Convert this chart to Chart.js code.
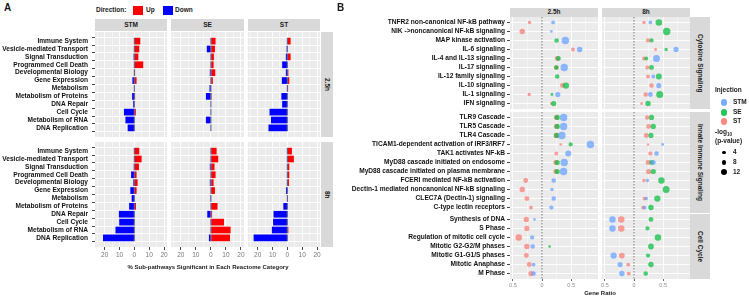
<!DOCTYPE html>
<html>
<head>
<meta charset="utf-8">
<script src="https://cdn.jsdelivr.net/npm/chart.js@4.4.1/dist/chart.umd.min.js"></script>
<style>
  body { margin: 0; width: 749px; height: 298px; position: relative; overflow: hidden; background: #fff;
         font-family: 'Liberation Sans', Arial, sans-serif; }
  canvas { position: absolute; }
  .t { position: absolute; white-space: nowrap; color: #1a1a1a; font-weight: bold; line-height: 1; }
  .strip { position: absolute; background: #d9d9d9; display: flex; align-items: center; justify-content: center;
           font-weight: bold; color: #1a1a1a; font-size: 6.5px; line-height: 1; }
  .box { position: absolute; }
</style>
</head>
<body>
<script>
// ---------- Panel A: % sub-pathways significant per Reactome category ----------
const categories = ['Immune System', 'Vesicle-mediated Transport', 'Signal Transduction', 'Programmed Cell Death',
  'Developmental Biology', 'Gene Expression', 'Metabolism', 'Metabolism of Proteins', 'DNA Repair',
  'Cell Cycle', 'Metabolism of RNA', 'DNA Replication'];
const injections = ['STM', 'SE', 'ST'];
const times = ['2.5h', '8h'];

// 2.5h
const stmUp25   = [4, 3.3, 2.7, 6, 0.5, 1.5, 0.3, 0.5, 0, 1, 0, 0];
const stmDown25 = [0, 0, -0.5, 0, 0, -1.3, -0.3, -1.5, -0.8, -7, -6, -4.5];
const seUp25    = [3.1, 2.7, 2, 1.8, 2.9, 1.3, 0, 0.5, 0, 0, 0, 0];
const seDown25  = [0, -2.7, 0, 0, -0.7, 0, -0.9, -3.3, 0, 0, -3.3, 0];
const stUp25    = [2.2, 0, 2.2, 0, 0.7, 1.3, 0.5, 0, 0, 0, 0, 0];
const stDown25  = [0, -0.5, -1, -3.5, -1, -3.7, 0, -4, -3.5, -12, -11, -12.7];
// 8h
const stmUp8    = [3.3, 4.9, 3.1, 1.5, 2.2, 1.5, 0, 1.1, 0, 0, 0, 0];
const stmDown8  = [0, 0, -0.4, -2.2, -0.7, -2.7, -1.8, -3.5, -10.4, -10.2, -12.7, -21.1];
const seUp8     = [3.8, 4.9, 2.4, 3.1, 1.8, 2.7, 0, 4.4, 0.8, 8.7, 13.1, 12.7];
const seDown8   = [0, 0, -0.7, 0, -0.7, 0, -0.4, 0, -2.4, 0, 0, -1.3];
const stUp8     = [3.1, 4.4, 1.3, 1.3, 1.1, 0, 0.4, 0, 0, 0, 0.7, 0];
const stDown8   = [0, 0, 0, 0, 0, -0.9, -0.3, -2.7, -9.3, -9.6, -10.4, -22.7];

// ---------- Panel B: gene ratio bubbles ----------
const cytokine = ['TNFR2 non-canonical NF-kB pathway', 'NIK ->noncanonical NF-kB signaling', 'MAP kinase activation',
  'IL-6 signaling', 'IL-4 and IL-13 signaling', 'IL-17 signaling', 'IL-12 family signaling', 'IL-10 signaling',
  'IL-1 signaling', 'IFN signaling'];
const innate = ['TLR9 Cascade', 'TLR5 Cascade', 'TLR4 Cascade', 'TICAM1-dependent activation of IRF3/IRF7',
  'TAK1 activates NF-kB', 'MyD88 cascade initiated on endosome', 'MyD88 cascade initiated on plasma membrane',
  'FCERI mediated NF-kB activation', 'Dectin-1 mediated noncanonical NF-kB signaling', 'CLEC7A (Dectin-1) signaling',
  'C-type lectin receptors'];
const cellCycle = ['Synthesis of DNA', 'S Phase', 'Regulation of mitotic cell cycle', 'Mitotic G2-G2/M phases',
  'Mitotic G1-G1/S phases', 'Mitotic Anaphase', 'M Phase'];

// values follow the order cytokine, innate, cellCycle (null = not significant)
const ratioSTM25 = [0.19, 0.16, 0.40, 0.645, null, 0.38, null, null, 0.27, null,
  0.37, 0.37, 0.34, 0.83, 0.45, 0.38, 0.37, 0.20, 0.17, 0.20, 0.16,
  -0.13, null, -0.17, -0.16, null, -0.145, -0.145];
const logpSTM25 = [5, 2.5, 18, 10, null, 18, null, null, 9, null,
  18, 18, 18, 18, 12, 18, 18, 7, 4, 7, 6,
  2.5, null, 6, 7, null, 5, 7];
const ratioSE25 = [null, null, 0.25, null, 0.28, 0.245, 0.26, 0.41, 0.17, 0.20,
  0.26, 0.26, 0.25, 0.49, null, 0.26, 0.26, null, null, null, null,
  null, null, null, 0.13, null, null, null];
const logpSE25 = [null, null, 7, null, 8, 7, 7, 13, 3, 9,
  9, 9, 9, 6, null, 9, 9, null, null, null, null,
  null, null, null, 2.5, null, null, null];
const ratioST25 = [-0.215, -0.34, null, 0.53, 0.26, 0.245, null, 0.35, -0.22, 0.16,
  0.245, 0.245, 0.245, 0.32, 0.245, 0.235, 0.235, -0.28, -0.34, -0.26, -0.19,
  -0.27, -0.26, -0.40, -0.26, -0.27, -0.22, -0.19];
const logpST25 = [4, 10, null, 5, 8, 7, null, 8, 4, 3,
  8, 8, 9, 2.5, 5, 8, 8, 8, 10, 8, 5,
  9, 9, 14, 10, 8, 8, 9];

const ratioSTM8 = [0.28, null, null, 0.72, 0.385, null, 0.33, 0.425, 0.28, null,
  null, null, null, 0.49, 0.385, 0.33, null, 0.23, null, 0.21, 0.18,
  -0.37, -0.37, null, null, -0.35, -0.24, -0.21];
const logpSTM8 = [5, null, null, 9, 16, null, 5, 9, 8, null,
  null, null, null, 3, 7, 8, null, 4, null, 4, 5,
  14, 14, null, null, 13, 9, 10];
const ratioSE8 = [0.425, 0.56, 0.30, 0.55, 0.21, 0.30, 0.425, null, 0.44, 0.24,
  0.30, 0.33, 0.29, null, null, 0.30, 0.33, 0.47, 0.55, 0.40, 0.29,
  0.29, 0.23, 0.41, 0.29, 0.24, 0.29, 0.20];
const logpSE8 = [14, 18, 6, 4, 5, 8, 12, null, 16, 10,
  9, 9, 9, null, null, 8, 9, 14, 16, 13, 10,
  8, 6, 14, 11, 6, 10, 7];
const ratioST8 = [0.17, null, 0.24, 0.37, 0.17, 0.23, 0.24, 0.30, 0.20, 0.13,
  0.225, 0.25, 0.21, 0.24, 0.28, 0.24, 0.25, 0.17, null, 0.18, 0.155,
  -0.22, -0.22, null, null, -0.21, -0.10, -0.09];
const logpST8 = [4, null, 6, 3, 5, 6, 5, 7, 7, 3,
  7, 8, 8, 2, 6, 8, 9, 4, null, 5, 5,
  14, 14, null, null, 11, 5, 5];

const sizeBreaks = [4, 8, 12];

// ---------- helpers ----------
const FONT = "'Liberation Sans', Arial, sans-serif";
const injColor = { STM: 'rgba(97,156,255,0.7)', SE: 'rgba(0,186,56,0.7)', ST: 'rgba(248,118,109,0.7)' };
const injKey = { STM: 'rgba(97,156,255,0.85)', SE: 'rgba(0,186,56,0.85)', ST: 'rgba(248,118,109,0.85)' };
const radius = p => 0.9 * Math.sqrt(p) - 0.1;

function addCanvas(x, y, w, h) {
  const c = document.createElement('canvas');
  c.width = w; c.height = h;
  c.style.left = x + 'px'; c.style.top = y + 'px';
  c.style.width = w + 'px'; c.style.height = h + 'px';
  document.body.appendChild(c);
  return c;
}

function text(str, x, cy, size, extra) {
  const d = document.createElement('div');
  d.className = 't';
  d.textContent = str;
  Object.assign(d.style, { left: x + 'px', top: (cy - size / 2) + 'px', fontSize: size + 'px' }, extra || {});
  document.body.appendChild(d);
  return d;
}

function strip(str, x, y, w, h, vertical) {
  const d = document.createElement('div');
  d.className = 'strip';
  Object.assign(d.style, { left: x + 'px', top: y + 'px', width: w + 'px', height: h + 'px' });
  const s = document.createElement('span');
  s.textContent = str;
  if (vertical) s.style.writingMode = 'vertical-rl';
  d.appendChild(s);
  document.body.appendChild(d);
}

function box(x, y, w, h, color, round) {
  const d = document.createElement('div');
  d.className = 'box';
  Object.assign(d.style, { left: x + 'px', top: y + 'px', width: w + 'px', height: h + 'px', background: color });
  if (round) d.style.borderRadius = '50%';
  document.body.appendChild(d);
}

const panelBg = {
  id: 'panelBg',
  beforeDraw(chart) {
    const { ctx, chartArea: a } = chart;
    ctx.save();
    ctx.fillStyle = '#ebebeb';
    ctx.fillRect(a.left, a.top, a.width, a.height);
    ctx.restore();
  }
};

// thin dark marks at zero for every category row (zero-width bars)
const zeroMarks = {
  id: 'zeroMarks',
  afterDatasetsDraw(chart) {
    const { ctx, scales: { x, y } } = chart;
    const x0 = x.getPixelForValue(0);
    const half = Math.abs(y.getPixelForValue(1) - y.getPixelForValue(0)) * 0.85 / 2;
    ctx.save();
    ctx.strokeStyle = '#22226a';
    ctx.lineWidth = 0.8;
    categories.forEach((c, i) => {
      const py = y.getPixelForValue(i);
      ctx.beginPath();
      ctx.moveTo(x0, py - half);
      ctx.lineTo(x0, py + half);
      ctx.stroke();
    });
    ctx.restore();
  }
};

const zeroDash = {
  id: 'zeroDash',
  beforeDatasetsDraw(chart) {
    const { ctx, chartArea: a, scales: { x } } = chart;
    const x0 = x.getPixelForValue(0);
    ctx.save();
    ctx.strokeStyle = '#4d4d4d';
    ctx.lineWidth = 0.8;
    ctx.setLineDash([1.5, 1.5]);
    ctx.beginPath();
    ctx.moveTo(x0, a.top);
    ctx.lineTo(x0, a.bottom);
    ctx.stroke();
    ctx.restore();
  }
};

// ---------- Panel A ----------
text('A', 4, 8, 10);
text('Direction:', 96, 10.5, 6.5);
box(133, 6, 10, 9, '#ff0000');
text('Up', 146, 10.5, 6.5);
box(163, 6, 10, 9, '#0000ff');
text('Down', 175, 10.5, 6.5);

const barSeries = {
  '2.5h': { STM: [stmUp25, stmDown25], SE: [seUp25, seDown25], ST: [stUp25, stDown25] },
  '8h': { STM: [stmUp8, stmDown8], SE: [seUp8, seDown8], ST: [stUp8, stDown8] }
};
const colA = [95, 171, 248];
const rowA = [32, 142];
const wA = 72, hA = 105;

injections.forEach((inj, ci) => strip(inj, colA[ci], 19, wA + (ci === 1 ? 1 : 0), 12));
times.forEach((t, ri) => strip(t, 321, rowA[ri], 12, hA, true));

times.forEach((t, ri) => {
  injections.forEach((inj, ci) => {
    const left = ci === 0, bottom = ri === 1;
    const axW = 95, axH = 16, pad = 8;
    const padL = left ? axW : pad, padB = bottom ? axH : pad;
    const w = wA + (ci === 1 ? 1 : 0);
    const canvas = addCanvas(colA[ci] - padL, rowA[ri] - pad, w + padL + pad, hA + pad + padB);
    const [up, down] = barSeries[t][inj];
    new Chart(canvas, {
      type: 'bar',
      data: {
        datasets: [
          { label: 'Up', data: up.map((v, i) => ({ x: v, y: i })), backgroundColor: '#ff0000',
            grouped: false, barPercentage: 0.85, categoryPercentage: 1 },
          { label: 'Down', data: down.map((v, i) => ({ x: v, y: i })), backgroundColor: '#0000ff',
            grouped: false, barPercentage: 0.85, categoryPercentage: 1 }
        ]
      },
      options: {
        indexAxis: 'y',
        responsive: false,
        animation: false,
        events: [],
        layout: { padding: { left: left ? 0 : pad, right: pad, top: pad, bottom: bottom ? 0 : pad } },
        plugins: { legend: { display: false }, tooltip: { enabled: false } },
        scales: {
          x: {
            type: 'linear', min: -26.5, max: 22,
            border: { display: false },
            grid: {
              color: '#ffffff',
              lineWidth: c => (c.tick && c.tick.value % 10 === 0) ? 0.9 : 0.45,
              drawTicks: bottom, tickLength: 3,
              tickColor: c => (c.tick && c.tick.value % 10 === 0) ? '#333333' : 'rgba(0,0,0,0)'
            },
            ticks: {
              stepSize: 5, includeBounds: false, display: bottom, autoSkip: false, maxRotation: 0, padding: 1,
              color: '#777777', font: { family: FONT, size: 6.5 },
              callback: v => v % 10 === 0 ? String(Math.abs(v)) : ''
            },
            afterFit: s => { s.height = bottom ? axH : 0; }
          },
          y: {
            type: 'linear', reverse: true, min: -0.6, max: categories.length - 0.4,
            border: { display: false },
            grid: { color: '#ffffff', lineWidth: 0.9, drawTicks: left, tickLength: 3, tickColor: '#333333' },
            ticks: {
              stepSize: 1, includeBounds: false, display: left, autoSkip: false, padding: 4,
              color: '#111111', font: { family: FONT, size: 6.6, weight: 'bold' },
              callback: v => categories[v]
            },
            afterFit: s => { s.width = left ? axW : 0; }
          }
        }
      },
      plugins: [panelBg, zeroMarks]
    });
  });
});
text('% Sub-pathways Significant in Each Reactome Category', 208, 267, 6, { transform: 'translateX(-50%)' });

// ---------- Panel B ----------
text('B', 337, 8, 10);

const bubbleSeries = {
  '2.5h': { STM: [ratioSTM25, logpSTM25], SE: [ratioSE25, logpSE25], ST: [ratioST25, logpST25] },
  '8h': { STM: [ratioSTM8, logpSTM8], SE: [ratioSE8, logpSE8], ST: [ratioST8, logpST8] }
};
const groupsB = [['Cytokine Signaling', cytokine], ['Innate Immune Signaling', innate], ['Cell Cycle', cellCycle]];
const colB = [510, 602];
const wB = 88;
const rowB = [{ y: 17, h: 92 }, { y: 112, h: 101 }, { y: 214, h: 65 }];

times.forEach((t, ci) => strip(t, colB[ci], 8, wB, 9));
groupsB.forEach((g, ri) => strip(g[0], 690, rowB[ri].y, 20, rowB[ri].h, true));

let offset = 0;
groupsB.forEach((g, ri) => {
  const labels = g[1];
  const start = offset;
  offset += labels.length;
  times.forEach((t, ci) => {
    const left = ci === 0, bottom = ri === groupsB.length - 1;
    const axW = 175, axH = 11, pad = 8;
    const padL = left ? axW : pad, padB = bottom ? axH : pad;
    const canvas = addCanvas(colB[ci] - padL, rowB[ri].y - pad, wB + padL + pad, rowB[ri].h + pad + padB);
    const datasets = injections.map(inj => {
      const [ratio, logp] = bubbleSeries[t][inj];
      const pts = [];
      labels.forEach((lab, i) => {
        const v = ratio[start + i];
        if (v !== null) pts.push({ x: v, y: i, r: radius(logp[start + i]) });
      });
      return { label: inj, data: pts, backgroundColor: injColor[inj], borderWidth: 0 };
    });
    new Chart(canvas, {
      type: 'bubble',
      data: { datasets },
      options: {
        responsive: false,
        animation: false,
        events: [],
        layout: { padding: { left: left ? 0 : pad, right: pad, top: pad, bottom: bottom ? 0 : pad } },
        plugins: { legend: { display: false }, tooltip: { enabled: false } },
        scales: {
          x: {
            type: 'linear', min: -0.55, max: 0.96,
            border: { display: false },
            grid: {
              color: '#ffffff',
              lineWidth: c => (c.tick && Math.abs(c.tick.value * 2 - Math.round(c.tick.value * 2)) < 1e-6) ? 0.9 : 0.45,
              drawTicks: bottom, tickLength: 2,
              tickColor: c => (c.tick && Math.abs(c.tick.value * 2 - Math.round(c.tick.value * 2)) < 1e-6) ? '#555555' : 'rgba(0,0,0,0)'
            },
            ticks: {
              stepSize: 0.25, includeBounds: false, display: bottom, autoSkip: false, maxRotation: 0, padding: 1,
              color: '#8c8c8c', font: { family: FONT, size: 5.5 },
              callback: v => Math.abs(v * 2 - Math.round(v * 2)) < 1e-6 ? String(Math.abs(Math.round(v * 10) / 10)) : ''
            },
            afterFit: s => { s.height = bottom ? axH : 0; }
          },
          y: {
            type: 'linear', reverse: true, min: -0.6, max: labels.length - 0.4,
            border: { display: false },
            grid: { color: '#ffffff', lineWidth: 0.9, drawTicks: left, tickLength: 3, tickColor: '#333333' },
            ticks: {
              stepSize: 1, includeBounds: false, display: left, autoSkip: false, padding: 2,
              color: '#111111', font: { family: FONT, size: 6.6, weight: 'bold' },
              callback: v => labels[v]
            },
            afterFit: s => { s.width = left ? axW : 0; }
          }
        }
      },
      plugins: [panelBg, zeroDash]
    });
  });
});
text('Gene Ratio', 600, 292.5, 6, { transform: 'translateX(-50%)' });

// legend B
text('Injection', 715, 90.7, 6.5);
injections.forEach((inj, i) => {
  const cy = [102.3, 112.3, 121.7][i];
  box(724 - 3.3, cy - 3.3, 6.6, 6.6, injKey[inj], true);
  text(inj, 733, cy, 6.5);
});
const lg = text('-log', 715, 132.7, 6.5);
const sub = document.createElement('span');
sub.textContent = '10';
sub.style.fontSize = '4.5px';
sub.style.verticalAlign = '-1.5px';
lg.appendChild(sub);
text('(p-value)', 715, 141, 6.5);
sizeBreaks.forEach((p, i) => {
  const cy = 152.3 + i * 10;
  const r = radius(p);
  box(724 - r, cy - r, 2 * r, 2 * r, '#000000', true);
  text(String(p), 733, cy, 6.5);
});
</script>
</body>
</html>
